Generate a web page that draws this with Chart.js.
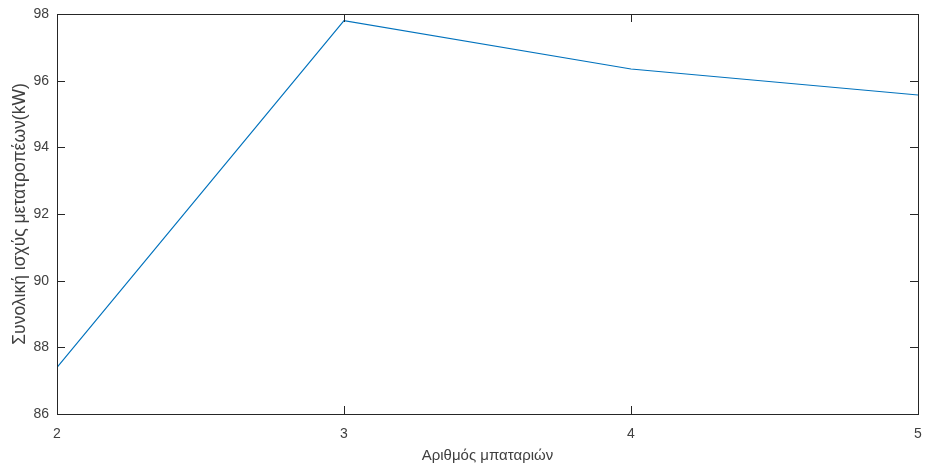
<!DOCTYPE html>
<html>
<head>
<meta charset="utf-8">
<script src="https://cdn.jsdelivr.net/npm/chart.js@4"></script>
<style>
html,body{margin:0;padding:0;background:#fff;}
#wrap{width:925px;height:470px;}
</style>
</head>
<body>
<div id="wrap"><canvas id="c" width="925" height="470"></canvas></div>
<script>
// number of batteries vs total converter power
const batteries = [2, 3, 4, 5];
const power = [87.4, 97.8, 96.35, 95.57];
const yTicks = [86, 88, 90, 92, 94, 96, 98];
const xTicks = [2, 3, 4, 5];

const axisColor = "#262626";
const textColor = "#404040";

// box round the plot and inward tick marks, as in the original
const boxPlugin = {
id: "box",
afterDraw(chart) {
const ctx = chart.ctx;
const a = chart.chartArea;
const xs = chart.scales.x, ys = chart.scales.y;
ctx.save();
ctx.strokeStyle = axisColor;
ctx.lineWidth = 1;
ctx.strokeRect(Math.round(a.left) + 0.5, Math.round(a.top) + 0.5, Math.round(a.right - a.left), Math.round(a.bottom - a.top));
ctx.beginPath();
yTicks.forEach(v => {
const py = Math.round(ys.getPixelForValue(v)) + 0.5;
ctx.moveTo(a.left, py); ctx.lineTo(a.left + 8, py);
ctx.moveTo(a.right, py); ctx.lineTo(a.right - 8, py);
});
xTicks.forEach(v => {
const px = Math.round(xs.getPixelForValue(v)) + 0.5;
ctx.moveTo(px, a.bottom); ctx.lineTo(px, a.bottom - 8);
ctx.moveTo(px, a.top); ctx.lineTo(px, a.top + 8);
});
ctx.stroke();
ctx.restore();
}
};

new Chart(document.getElementById("c"), {
type: "line",
data: {
datasets: [{
data: batteries.map((b, i) => ({ x: b, y: power[i] })),
borderColor: "#0072BD",
borderWidth: 1.2,
pointRadius: 0,
tension: 0,
fill: false
}]
},
options: {
responsive: false,
animation: false,
layout: { padding: { top: 14, right: 7, left: 0, bottom: 0 } },
plugins: { legend: { display: false }, tooltip: { enabled: false } },
scales: {
x: {
type: "linear",
min: 2,
max: 5,
afterBuildTicks: s => { s.ticks = xTicks.map(v => ({ value: v })); },
afterFit: s => { s.height = 56; s.paddingLeft = 0; s.paddingRight = 0; },
grid: { display: false, drawTicks: false },
border: { display: false },
ticks: { color: textColor, font: { family: "Liberation Sans, Arial", size: 14 }, padding: 12, maxRotation: 0 },
title: { display: true, text: "Αριθμός μπαταριών", color: textColor, font: { family: "Liberation Sans, Arial", size: 15 }, padding: { top: 5, bottom: 5 } }
},
y: {
min: 86,
max: 98,
afterBuildTicks: s => { s.ticks = yTicks.map(v => ({ value: v })); },
afterFit: s => { s.width = 57; s.paddingTop = 0; s.paddingBottom = 0; },
grid: { display: false, drawTicks: false },
border: { display: false },
ticks: { color: textColor, font: { family: "Liberation Sans, Arial", size: 14 }, padding: 8 },
title: { display: true, text: "Συνολική ισχύς μετατροπέων(kW)", color: textColor, font: { family: "Liberation Sans, Arial", size: 17.5 }, padding: { top: 10, bottom: 10 } }
}
}
},
plugins: [boxPlugin]
});
</script>
</body>
</html>
